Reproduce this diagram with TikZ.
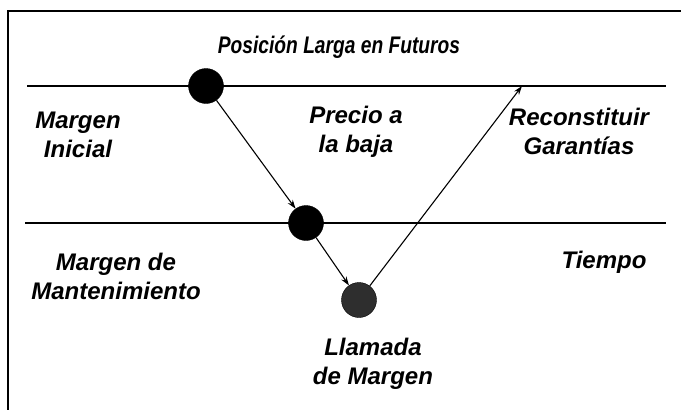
\documentclass[tikz,border=0pt]{standalone}
\usepackage{fontspec}
\setmainfont{Liberation Sans}
\usetikzlibrary{arrows.meta}
\begin{document}
\begin{tikzpicture}[x=1pt,y=-1pt,
  lbl/.style={font=\fontsize{24}{29}\selectfont\bfseries\itshape, align=center, inner sep=0pt},
  dot/.style={circle, draw=black, fill=black, minimum size=35pt, inner sep=0pt},
  conn/.style={line width=1.1pt, -{Stealth[length=9pt,width=6pt]}},
  rule/.style={line width=1.3pt}]
\useasboundingbox (0,0) rectangle (681,410);
\draw[rule] (681,11) -- (8,11) -- (8,410);
\coordinate (l1a) at (27,86);
\coordinate (l1b) at (666,86);
\coordinate (l2a) at (25,223);
\coordinate (l2b) at (666,223);
\draw[rule] (l1a) -- (l1b);
\draw[rule] (l2a) -- (l2b);
\node[dot] (c1) at (206,86) {};
\node[dot] (c2) at (306,223) {};
\node[dot, fill=black!82] (c3) at (359,300) {};
\coordinate (top) at (522,86);
\draw[conn] (c1) -- (c2);
\draw[conn] (c2) -- (c3);
\draw[conn] (c3) -- (top);
\node[lbl] (title) at (339,47) {\scalebox{0.8}[1]{Posición Larga en Futuros}};
\node[lbl] (mi) at (78,135) {Margen\\Inicial};
\node[lbl] (pb) at (356,132) {Precio a\\la baja};
\node[lbl] (rg) at (579,131) {Reconstituir\\Garantías};
\node[lbl] (mm) at (116,276) {Margen de\\Mantenimiento};
\node[lbl] (ti) at (604,262) {Tiempo};
\node[lbl] (ll) at (373,364) {Llamada\\de Margen};
\end{tikzpicture}
\end{document}
